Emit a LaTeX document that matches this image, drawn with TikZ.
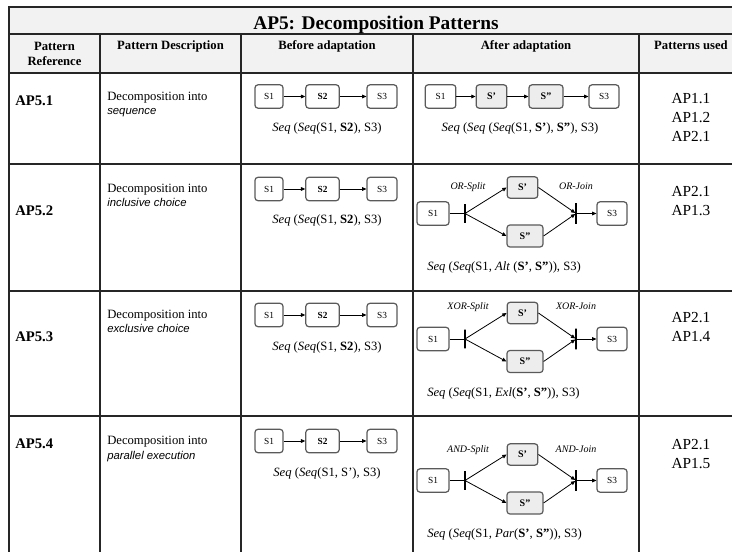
\documentclass[tikz,border=0pt]{standalone}
\usepackage{fontspec}
\setmainfont{Liberation Serif}
\setsansfont{Liberation Sans}
\usetikzlibrary{arrows.meta}
\definecolor{headgrey}{HTML}{F2F2F2}
\definecolor{newgrey}{HTML}{EDEDED}
\definecolor{boxline}{HTML}{5A5A5A}
\tikzset{>/.tip={Triangle[length=3.2pt,width=2.8pt]},
  svc/.style={draw=boxline, line width=0.9pt, rounded corners=2.2pt, fill=white,
    minimum width=23pt, minimum height=17.5pt, inner sep=0pt,
    font=\fontsize{7}{8}\selectfont},
  svcnew/.style={svc, fill=newgrey, font=\fontsize{7.5}{8}\selectfont\bfseries},
  gate/.style={draw, line width=1.1pt, minimum width=0pt, minimum height=14pt, inner sep=0pt},
  flow/.style={->, line width=0.6pt},
  formula/.style={font=\fontsize{9.5}{11}\selectfont, inner sep=0pt},
  gatelabel/.style={font=\fontsize{7.5}{9}\selectfont\itshape, inner sep=0pt, anchor=base},
  head/.style={font=\fontsize{9.5}{11.5}\selectfont\bfseries, align=center, inner sep=0pt, anchor=base},
  desc/.style={font=\fontsize{9.5}{10.7}\selectfont, align=left, inner sep=0pt, anchor=base west},
  used/.style={font=\fontsize{11.5}{14.2}\selectfont, align=center, inner sep=0pt, anchor=base},
  grid/.style={draw=black!85, line width=1pt}
}

\begin{document}
\begin{tikzpicture}[x=0.75pt,y=-0.75pt]
\useasboundingbox (0,0) rectangle (732,552);
\clip (0,0) rectangle (732,552);
% table
\fill[headgrey] (9,7) rectangle (743,73);
\draw[grid] (9,560) -- (9,7) -- (743,7) -- (743,560);
\foreach \y in {34,73,164,291,416}
  \draw[grid] (9,\y) -- (743,\y);
\foreach \x in {100,241,413,639}
  \draw[grid] (\x,34) -- (\x,560);

% headings (multi-line nodes sit on their last line)
\node[font=\fontsize{14.5}{16}\selectfont\bfseries, inner sep=0pt, anchor=base] (title) at (376,29.5) {AP5: Decomposition Patterns};
\node[head] (hRef) at (54.5,65.5) {Pattern\\Reference};
\node[head] (hDesc) at (170.5,49.5) {Pattern Description};
\node[head] (hBefore) at (327,49.5) {Before adaptation};
\node[head] (hAfter) at (526,49.5) {After adaptation};
\node[head] (hUsed) at (691,49.5) {Patterns used};

% references and descriptions
\foreach \n/\yb/\ya/\kind in {1/106/115/sequence, 2/216/206.7/inclusive choice,
  3/341.7/333/exclusive choice, 4/448.7/459/parallel execution}
{
  \node[font=\fontsize{11}{13}\selectfont\bfseries, inner sep=0pt, anchor=base west] (ref\n) at (15,\yb) {AP5.\n};
  \node[desc] (desc\n) at (107,\ya) {Decomposition into\\{\sffamily\itshape\fontsize{8.5}{10.7}\selectfont \kind}};
}

% patterns used
\foreach \n/\yb/\list in {1/141.7/{AP1.1\\AP1.2\\AP2.1}, 2/215.7/{AP2.1\\AP1.3},
  3/341.7/{AP2.1\\AP1.4}, 4/468.3/{AP2.1\\AP1.5}}
  \node[used] (used\n) at (691,\yb) {\list};

% before adaptation
\foreach \n/\yy/\second in {1/96.5/\textbf{S2}, 2/189/\textbf{S2}, 3/315/\textbf{S2}, 4/441/S'}
{
  \node[svc, minimum width=21pt] (b1\n) at (269,\yy) {S1};
  \node[svc, minimum width=25pt, font=\fontsize{7}{8}\selectfont\bfseries] (b2\n) at (322.5,\yy) {S2};
  \node[svc, minimum width=22.5pt] (b3\n) at (382,\yy) {S3};
  \draw[flow] (b1\n) -- (b2\n);
  \draw[flow] (b2\n) -- (b3\n);
  \node[formula, anchor=base] (bf\n) at (327,\yy+35) {\textit{Seq} (\textit{Seq}(S1, \second), S3)};
}

% after adaptation, sequence
\node[svc] (a1) at (440.5,96.5) {S1};
\node[svcnew] (a2) at (491.5,96.5) {S'};
\node[svcnew, minimum width=25.5pt] (a3) at (546,96.5) {S''};
\node[svc, minimum width=22.5pt] (a4) at (604,96.5) {S3};
\draw[flow] (a1) -- (a2);
\draw[flow] (a2) -- (a3);
\draw[flow] (a3) -- (a4);
\node[formula, anchor=base] (af1) at (520,131.5) {\textit{Seq} (\textit{Seq} (\textit{Seq}(S1, \textbf{S'}), \textbf{S''}), S3)};

% after adaptation, split and join
\foreach \n/\yy/\ly/\kind/\op in {2/213.5/189.5/OR/{\textit{Alt}\ }, 3/339/309.3/XOR/\textit{Exl},
  4/480.5/452.3/AND/\textit{Par}}
{
  \node[svc, minimum width=24pt] (c1\n) at (433,\yy) {S1};
  \node[gate] (split\n) at (465,\yy) {};
  \node[svcnew, minimum height=16pt] (cup\n) at (522.5,\yy-26) {S'};
  \node[svcnew, minimum width=27pt, minimum height=16.5pt] (cdn\n) at (525,\yy+22.5) {S''};
  \node[gate, minimum height=15.5pt] (join\n) at (576,\yy) {};
  \node[svc, minimum width=22.5pt] (c3\n) at (612,\yy) {S3};
  \draw[line width=0.6pt] (c1\n) -- (split\n);
  \draw[flow] (split\n) -- (cup\n.west);
  \draw[flow] (split\n) -- (cdn\n.west);
  \draw[flow] (cup\n.east) -- (join\n);
  \draw[flow] (cdn\n.east) -- (join\n);
  \draw[flow] (join\n) -- (c3\n);
  \node[gatelabel] (sl\n) at (468,\ly) {\kind-Split};
  \node[gatelabel] (jl\n) at (576,\ly) {\kind-Join};
  \node[formula, anchor=base west] (cf\n) at (427,\yy+57) {\textit{Seq} (\textit{Seq}(S1, \op(\textbf{S'}, \textbf{S''})), S3)};
}
\end{tikzpicture}
\end{document}
